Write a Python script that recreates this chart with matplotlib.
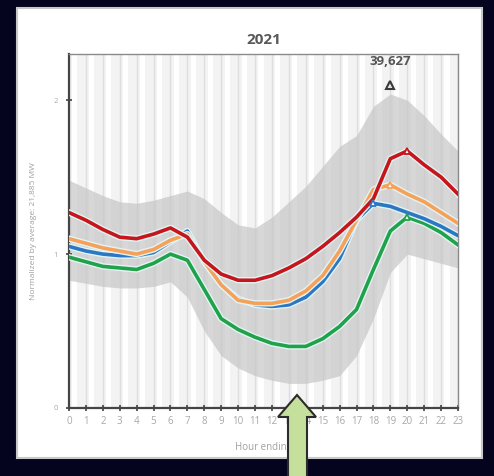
import numpy as np
import matplotlib
matplotlib.use('Agg')
import matplotlib.pyplot as plt
import matplotlib.patheffects as pe
from matplotlib.patches import Rectangle, Polygon

plt.rcParams['font.family'] = ['Open Sans', 'DejaVu Sans']

# часы суток
hours = list(range(24))

# нормированная нагрузка по сезонам (к среднему 21,885 MW)
red = [1.27, 1.22, 1.16, 1.11, 1.10, 1.13, 1.17, 1.11, 0.96, 0.87, 0.83, 0.83,
       0.86, 0.91, 0.97, 1.05, 1.14, 1.24, 1.36, 1.62, 1.67, 1.58, 1.50, 1.39]
orange = [1.10, 1.07, 1.04, 1.02, 1.00, 1.03, 1.09, 1.13, 0.95, 0.80, 0.70, 0.68,
          0.68, 0.70, 0.76, 0.86, 1.02, 1.22, 1.42, 1.45, 1.39, 1.34, 1.27, 1.20]
blue = [1.05, 1.02, 1.00, 0.99, 0.99, 1.01, 1.08, 1.15, 0.95, 0.80, 0.71, 0.67,
        0.66, 0.67, 0.72, 0.82, 0.97, 1.22, 1.33, 1.31, 1.27, 1.23, 1.18, 1.12]
green = [0.98, 0.95, 0.92, 0.91, 0.90, 0.94, 1.00, 0.96, 0.77, 0.58, 0.51, 0.46,
         0.42, 0.40, 0.40, 0.45, 0.53, 0.64, 0.90, 1.15, 1.24, 1.20, 1.14, 1.06]

# диапазон (мин / макс) за год
band_hi = [1.48, 1.43, 1.38, 1.34, 1.33, 1.35, 1.38, 1.41, 1.36, 1.27, 1.19, 1.17,
           1.24, 1.34, 1.44, 1.57, 1.70, 1.77, 1.96, 2.04, 2.00, 1.90, 1.78, 1.67]
band_lo = [0.83, 0.81, 0.79, 0.78, 0.78, 0.79, 0.82, 0.72, 0.50, 0.34, 0.26, 0.21,
           0.18, 0.16, 0.16, 0.18, 0.21, 0.34, 0.58, 0.88, 1.00, 0.97, 0.94, 0.91]

# пиковая нагрузка
peak_hour = 19
peak_val = 2.10
peak_label = '39,627'

W, H = 494, 476
fig = plt.figure(figsize=(W / 100, H / 100), dpi=100)
fig.patch.set_facecolor('#04041f')

# белая подложка под график
fig.add_artist(Rectangle((17 / W, 1 - 458 / H), 465 / W, 450 / H, transform=fig.transFigure,
                         facecolor='white', edgecolor='#c8c8c8', lw=1.5, zorder=0))

ax = fig.add_axes([69 / W, 1 - 408 / H, 389 / W, 354 / H])
ax.set_facecolor('#f3f3f3')

# полосатый фон
for h in hours:
    ax.axvspan(h + 0.2, h + 0.5, color='white', lw=0, zorder=0)
    ax.axvline(h, color='#dedede', lw=1.0, zorder=0.5)

ax.fill_between(hours, band_lo, band_hi, color='#c6c6c6', alpha=0.7, lw=0, zorder=1)

halo = [pe.Stroke(linewidth=4.6, foreground='#e4f3f3'), pe.Normal()]
series = [(green, '#1fa24a', 20), (blue, '#2a78c4', 18), (orange, '#f5a15a', 19), (red, '#c4161c', 20)]
for vals, col, pk in series:
    ax.plot(hours, vals, color=col, lw=2.6, zorder=3, path_effects=halo, solid_joinstyle='round')
    ax.plot(pk, vals[pk], marker='^', ms=5, mfc='white', mec=col, mew=1.3, zorder=4)

ax.plot(peak_hour, peak_val, marker='^', ms=6, mfc='none', mec='#3a3a3a', mew=1.5, zorder=4)
ax.text(peak_hour, peak_val + 0.15, peak_label, ha='center', va='center',
        fontsize=9.5, fontweight='bold', color='#555555')

ax.set_xlim(0, 23)
ax.set_ylim(0, 2.3)
ax.set_xticks(hours)
ax.set_yticks([0, 1, 2])
ax.tick_params(axis='both', direction='inout', length=4, width=1.2, color='#404040',
               labelcolor='#a8a8a8', labelsize=7)
ax.tick_params(axis='y', labelsize=5.5, pad=6)

for s in ['left', 'bottom']:
    ax.spines[s].set_color('#454545')
    ax.spines[s].set_linewidth(1.6)
for s in ['top', 'right']:
    ax.spines[s].set_color('#8a8a8a')
    ax.spines[s].set_linewidth(1.0)

ax.set_title('2021', fontsize=11, fontweight='bold', color='#595959', pad=7)
ax.set_xlabel('Hour ending', fontsize=7, color='#a0a0a0', labelpad=11)
ax.set_ylabel('Normalized by average: 21,885 MW', fontsize=6, color='#a0a0a0', labelpad=12)

# стрелка снизу
pts = [(297, 395), (316, 417), (307, 417), (307, 480), (288, 480), (288, 417), (278, 417)]
pts = [(x / W, 1 - y / H) for x, y in pts]
fig.add_artist(Polygon(pts, closed=True, transform=fig.transFigure, facecolor='#c5df9c',
                       edgecolor='#2b2b2b', lw=1.5, zorder=10))

fig.savefig('out.png', dpi=100, facecolor=fig.get_facecolor())
